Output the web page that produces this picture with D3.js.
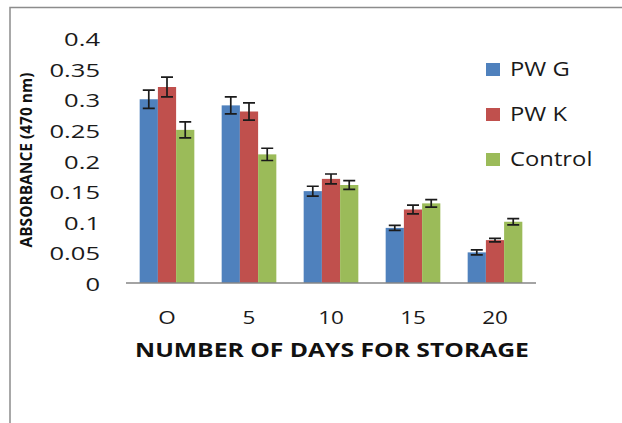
<!DOCTYPE html>
<html>
<head>
<meta charset="utf-8">
<script src="https://cdn.jsdelivr.net/npm/d3@7"></script>
<style>
  body { margin: 0; background: #fff; }
  svg { display: block; font-family: "Open Sans", sans-serif; }
</style>
</head>
<body>
<svg width="622" height="423"></svg>
<script>
var days = ["O", "5", "10", "15", "20"];
var seriesNames = ["PW G", "PW K", "Control"];
var seriesColors = ["#4F81BD", "#C0504D", "#9BBB59"];

var pwG = [0.30, 0.29, 0.15, 0.09, 0.05];
var pwK = [0.32, 0.28, 0.17, 0.12, 0.07];
var control = [0.25, 0.21, 0.16, 0.13, 0.10];

var errG = [0.015, 0.014, 0.008, 0.004, 0.004];
var errK = [0.016, 0.014, 0.008, 0.007, 0.003];
var errC = [0.013, 0.010, 0.007, 0.006, 0.005];

var yTicks = [0, 0.05, 0.1, 0.15, 0.2, 0.25, 0.3, 0.35, 0.4];

var values = [pwG, pwK, control];
var errors = [errG, errK, errC];

var svg = d3.select("svg"),
    width = +svg.attr("width"),
    height = +svg.attr("height");

// outer chart frame (right + bottom edges are cropped off)
svg.append("path")
    .attr("d", "M10," + height + "V7.5H" + width)
    .style("fill", "none")
    .style("stroke", "#8c8c8c")
    .style("stroke-width", "1.5px");

var x = d3.scaleBand()
    .domain(days)
    .range([126, 536])
    .padding(0);

var xs = d3.scaleBand()
    .domain(seriesNames)
    .range([0, x.bandwidth()])
    .paddingInner(0)
    .paddingOuter(0.75);

var y = d3.scaleLinear()
    .domain([0, 0.4])
    .range([283, 38]);

// flat table for bars
var rows = [];
days.forEach(function(d, i) {
  seriesNames.forEach(function(s, j) {
    rows.push({day: d, series: s, color: seriesColors[j], value: values[j][i], err: errors[j][i]});
  });
});

svg.append("g")
  .selectAll("rect")
  .data(rows)
  .enter().append("rect")
    .attr("x", function(d) { return x(d.day) + xs(d.series); })
    .attr("y", function(d) { return y(d.value); })
    .attr("width", xs.bandwidth())
    .attr("height", function(d) { return y(0) - y(d.value); })
    .style("fill", function(d) { return d.color; });

// error bars
var capW = 12;
svg.append("g")
    .style("stroke", "#1b1b1b")
    .style("stroke-width", "1.7px")
    .style("fill", "none")
  .selectAll("path")
  .data(rows)
  .enter().append("path")
    .attr("d", function(d) {
      var cx = x(d.day) + xs(d.series) + xs.bandwidth() / 2,
          y1 = y(d.value + d.err),
          y2 = y(d.value - d.err);
      return "M" + (cx - capW / 2) + "," + y1 + "H" + (cx + capW / 2) +
             "M" + cx + "," + y1 + "V" + y2 +
             "M" + (cx - capW / 2) + "," + y2 + "H" + (cx + capW / 2);
    });

// x axis line
svg.append("line")
    .attr("x1", x.range()[0])
    .attr("x2", x.range()[1])
    .attr("y1", y(0))
    .attr("y2", y(0))
    .style("stroke", "#868686")
    .style("stroke-width", "1.3px");

// y tick labels (no axis line in the original)
svg.append("g")
  .selectAll("text")
  .data(yTicks)
  .enter().append("text")
    .attr("transform", function(d) { return "translate(100," + (y(d) + 8) + ") scale(1.42,1)"; })
    .attr("text-anchor", "end")
    .style("font-size", "18px")
    .style("fill", "#1a1a1a")
    .text(function(d) { return d3.format("")(d); });

// x tick labels
svg.append("g")
  .selectAll("text")
  .data(days)
  .enter().append("text")
    .attr("transform", function(d) { return "translate(" + (x(d) + x.bandwidth() / 2) + ",324) scale(1.25,1)"; })
    .attr("text-anchor", "middle")
    .style("font-size", "18px")
    .style("fill", "#1a1a1a")
    .text(function(d) { return d; });

// axis titles
svg.append("text")
    .attr("transform", "translate(332,357) scale(1.3,1)")
    .attr("text-anchor", "middle")
    .style("font-size", "19px")
    .style("font-weight", "bold")
    .style("fill", "#111")
    .text("NUMBER OF DAYS FOR STORAGE");

svg.append("text")
    .attr("transform", "translate(32,160) rotate(-90)")
    .attr("text-anchor", "middle")
    .style("font-size", "15.5px")
    .style("font-weight", "bold")
    .style("fill", "#111")
    .text("ABSORBANCE (470 nm)");

// legend
var legend = svg.append("g")
  .selectAll("g")
  .data(seriesNames)
  .enter().append("g")
    .attr("transform", function(d, i) { return "translate(486," + (76 + i * 45) + ")"; });

legend.append("rect")
    .attr("x", 0)
    .attr("y", -13)
    .attr("width", 14)
    .attr("height", 13)
    .style("fill", function(d, i) { return seriesColors[i]; });

legend.append("text")
    .attr("transform", "translate(24,0) scale(1.22,1)")
    .style("font-size", "19.5px")
    .style("fill", "#1a1a1a")
    .text(function(d) { return d; });
</script>
</body>
</html>
